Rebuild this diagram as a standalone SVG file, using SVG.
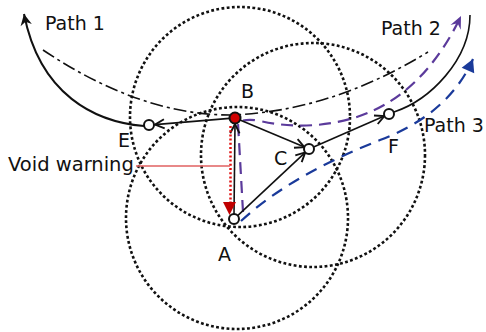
<svg xmlns="http://www.w3.org/2000/svg" width="486" height="332" viewBox="0 0 486 332">
<style>
text{font-family:"DejaVu Sans","Liberation Sans",sans-serif;font-size:19px;fill:#111}
.range{fill:none;stroke:#111;stroke-width:2.6;stroke-dasharray:2.8 2.4}
.edge{fill:none;stroke:#111;stroke-width:1.6}
.node{fill:#fff;stroke:#111;stroke-width:2}
</style>
<defs>
<marker id="open" markerUnits="userSpaceOnUse" markerWidth="14" markerHeight="14" viewBox="-10 -6 12 12" refX="0" refY="0" orient="auto">
<path d="M-8,-4 L0,0 L-8,4" fill="none" stroke="#111" stroke-width="1.6"/>
</marker>
<marker id="blk" markerUnits="userSpaceOnUse" markerWidth="16" markerHeight="16" viewBox="-12 -7 14 14" refX="0" refY="0" orient="auto">
<path d="M-10,-5 L0,0 L-10,5 L-7,0 z" fill="#111"/>
</marker>
<marker id="pur" markerUnits="userSpaceOnUse" markerWidth="16" markerHeight="16" viewBox="-12 -7 14 14" refX="0" refY="0" orient="auto">
<path d="M-11,-5 L0,0 L-11,5 L-7,0 z" fill="#5b3a9b"/>
</marker>
<marker id="blu" markerUnits="userSpaceOnUse" markerWidth="16" markerHeight="16" viewBox="-12 -7 14 14" refX="0" refY="0" orient="auto">
<path d="M-11,-6 L0,0 L-11,6 z" fill="#1a3a9a"/>
</marker>
</defs>
<g id="ranges">
<circle class="range" cx="240" cy="117" r="110"/>
<circle class="range" cx="313" cy="155" r="112"/>
<circle class="range" cx="237" cy="218" r="111"/>
</g>
<g id="paths">
<path d="M43,50 Q140,115 230,115 Q330,112 428,52" fill="none" stroke="#111" stroke-width="1.6" stroke-dasharray="13 4 3 4"/>
<path d="M144,126 C95,122 40,95 24,14" fill="none" stroke="#111" stroke-width="2" marker-end="url(#blk)"/>
<path d="M394,112 C430,100 470,60 470,15" fill="none" stroke="#111" stroke-width="1.6"/>
<path d="M243,212 L238,123 Q245,118 260,121 C300,130 340,125 370,112 C410,95 440,60 461,16" fill="none" stroke="#5b3a9b" stroke-width="2.2" stroke-dasharray="12 7" marker-end="url(#pur)"/>
<path d="M241,221 C280,185 330,160 380,140 C420,125 455,100 473,59" fill="none" stroke="#1a3a9a" stroke-width="2.2" stroke-dasharray="12 8" marker-end="url(#blu)"/>
</g>
<g id="connectors">
<line class="edge" x1="229.5" y1="118.4" x2="155" y2="124.6" marker-end="url(#open)"/>
<line class="edge" x1="234" y1="214" x2="235" y2="124" marker-end="url(#open)"/>
<line class="edge" x1="240" y1="120" x2="304.4" y2="147.1" marker-end="url(#open)"/>
<line class="edge" x1="237.7" y1="215.6" x2="305.3" y2="152.4" marker-end="url(#open)"/>
<line class="edge" x1="313.6" y1="147" x2="384.4" y2="116" marker-end="url(#open)"/>
<line x1="230.5" y1="126" x2="230.5" y2="203" stroke="#e01010" stroke-width="2.5" stroke-dasharray="2 2.2"/>
<polygon points="223,202 236,202 229.5,215" fill="#c00000"/>
<line x1="136" y1="166" x2="230" y2="166" stroke="#e06060" stroke-width="1.6"/>
</g>
<g id="node-B"><circle cx="235" cy="118" r="5.5" fill="#d00000" stroke="#111" stroke-width="2"/><text x="241" y="98">B</text></g>
<g id="node-E"><circle class="node" cx="149" cy="125" r="5"/><text x="118" y="147">E</text></g>
<g id="node-C"><circle class="node" cx="309" cy="149" r="5"/><text x="274" y="165">C</text></g>
<g id="node-F"><circle class="node" cx="389" cy="114" r="5"/><text x="388" y="153">F</text></g>
<g id="node-A"><circle class="node" cx="234" cy="219" r="5"/><text x="218" y="261">A</text></g>
<g id="labels">
<text x="45" y="30">Path 1</text>
<text x="381" y="35">Path 2</text>
<text x="424" y="132">Path 3</text>
<text x="8" y="171" style="font-size:19.5px">Void warning</text>
</g>
</svg>
